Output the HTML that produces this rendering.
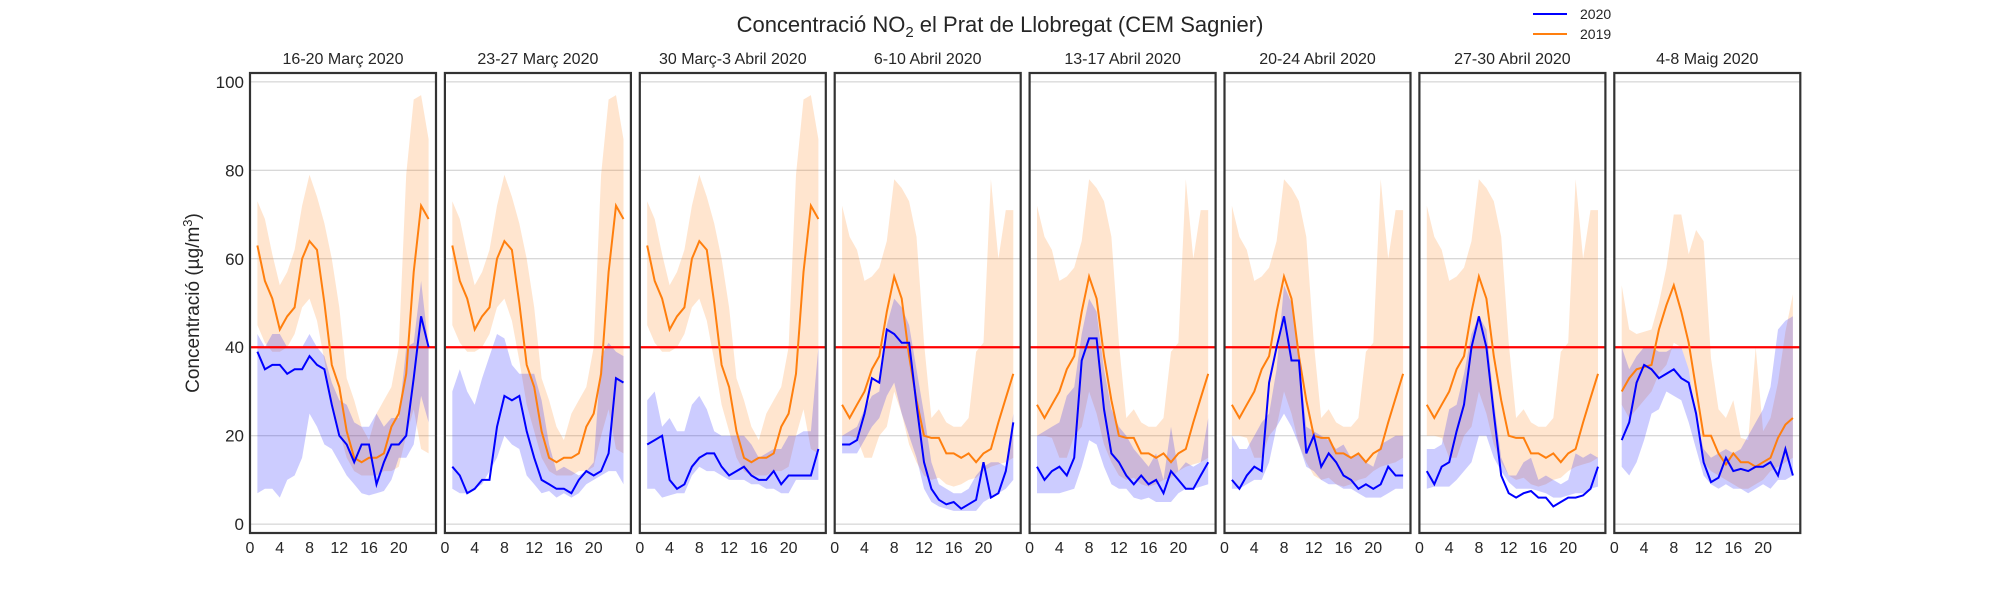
<!DOCTYPE html>
<html><head><meta charset="utf-8"><style>
body{margin:0;background:#fff;font-family:"Liberation Sans",sans-serif}
svg text{font-family:"Liberation Sans",sans-serif;fill:#262626}
</style></head><body>
<svg id="c" width="2000" height="600" viewBox="0 0 2000 600">
<text x="1000" y="32" text-anchor="middle" font-size="22">Concentració NO<tspan font-size="15" dy="5">2</tspan><tspan dy="-5"> el Prat de Llobregat (CEM Sagnier)</tspan></text>
<g>
<line x1="1533" y1="14" x2="1567" y2="14" stroke="#0000ff" stroke-width="2"/>
<text x="1580" y="19" font-size="14">2020</text>
<line x1="1533" y1="34" x2="1567" y2="34" stroke="#ff7f0e" stroke-width="2"/>
<text x="1580" y="39" font-size="14">2019</text>
</g>
<text transform="translate(199,303) rotate(-90)" text-anchor="middle" font-size="19">Concentració (µg/m<tspan font-size="13" dy="-7">3</tspan><tspan dy="7">)</tspan></text>
</svg>
<script>
const titles=["16-20 Març 2020","23-27 Març 2020","30 Març-3 Abril 2020","6-10 Abril 2020","13-17 Abril 2020","20-24 Abril 2020","27-30 Abril 2020","4-8 Maig 2020"];
const hours=[1,2,3,4,5,6,7,8,9,10,11,12,13,14,15,16,17,18,19,20,21,22,23,24];
const yTicks=[0,20,40,60,80,100];
const xTicks=[0,4,8,12,16,20];
const limit=40;
const o19A=[63,55,51,44,47,49,60,64,62,50,36,31,21,15,14,15,15,16,22,25,34,57,72,69];
const o19AUp=[73,69,61,54,57,62,72,79,74,68,60,49,33,28,22,19,25,28,31,40,79,96,97,87];
const o19ALo=[45,41,39,39,40,43,49,51,46,37,27,21,15,12,11,11,11,12,12,13,20,26,17,16];
const o19B=[27,24,27,30,35,38,48,56,51,38,28,20,19.5,19.5,16,16,15,16,14,16,17,23,28.5,34];
const o19BUp=[72,65,62,55,56,58,64,78,76,73,65,41,24,26,23,22,22,24,39,41,78,60,71,71];
const o19BLo=[20,20,19.5,15,15,20,22,30,25,18,14,11,10,10.5,9,8.5,9,10,10.5,12,13,13.5,14,15];
const o19C=[30,33,35,35.5,36,44,49.5,54,48,41,30.6,20,20,16,13.5,16,14,14,13,14,15,19.5,22.5,24];
const o19CUp=[54,44,43,43.5,44,50,58,70,70,61,66.5,64,37.5,26,24,28,19.5,19,40,21,24,32,43.5,52];
const o19CLo=[27,24,26,28,30,34,36,41,40,35,24,14,12,11,10,9,8,8,9,10,12,13,14,15];
const b20=[
[39,35,36,36,34,35,35,38,36,35,27,20,18,14,18,18,9,14,18,18,20,33,47,40],
[13,11,7,8,10,10,22,29,28,29,21,15,10,9,8,8,7,10,12,11,12,16,33,32],
[18,19,20,10,8,9,13,15,16,16,13,11,12,13,11,10,10,12,9,11,11,11,11,17],
[18,18,19,25,33,32,44,43,41,41,27,14,8,5.5,4.5,5,3.5,4.5,5.5,14,6,7,12,23],
[13,10,12,13,11,15,37,42,42,26,16,14,11,9,11,9,10,7,12,10,8,8,11,14],
[10,8,11,13,12,32,40,47,37,37,16,20,13,16,14,11,10,8,9,8,9,13,11,11],
[12,9,13,14,21,27,40,47,40,25,11,7,6,7,7.5,6,6,4,5,6,6,6.5,8,13],
[19,23,32,36,35,33,34,35,33,32,25,14,9.5,10.5,15,12,12.5,12,13,13,14,11,17,11]];
const b20Up=[
[43,40,43,43,40,40,40,43,40,38,32,28,27,23,22,22,25,22,24,24,40,41,55,40],
[30,35,30,27,33,38,43,42,36,34,34,34,28,18,12,13,12,11,12,14,38,41,39,38],
[28,30,22,24,21,21,27,29,26,21,20,20,20,20,18,15,16,17,17,20,20,21,21,40],
[20,21,22,26,29,30,45,51,49,45,35,25,14,9,8,7,7,8,11,13,14,14,13,25],
[20,21,22,23,29,31,43,51,48,35,26,22,20,17,15,13,16,10,22,12,14,13,14,24],
[20,17,17,20,23,25,35,54,50,38,22,21,20,19,17,18,15,16,14,13,18,19,20,20],
[17,17,18,26,27,34,43,47,44,28,15,11,11,14,15,10,11,10,9,10,16,15,16,15],
[40,35,38,40,40,39,39,40,40,35,24,17,15,16,17,16,17,20,23,26,31,44,46,47]];
const b20Lo=[
[7,8,8,6,10,11,15,25,22,18,17,14,11,9,7,6.5,7,7.5,10,15,15,18,29,23],
[8,7,7,8,9,12,15,20,18,17,11,9,7,7.5,6,7,6,7,9,10,11,12,12,9],
[8,8,6,6.5,7,7,11,13,12,12,11,10,10,10,9,9,8,8,7,7,10,10,10,10],
[16,16,16,19,22,24,29,32,25,20,15,8,5,4,3.5,3,3,3,3,5,6,7,8,10],
[7,7,7,7,7.5,8,13,19,18,13,9,8,8,6,5.5,6,5,5,5,7,8,8,8.5,9],
[8,8,9,10,10,14,22,25,22,18,13,12,10,9,9,8,8,7,6,6,6,7,8,8],
[8,8.5,8.5,8.5,10,12,14,20,20,15,12,9.5,8,8,8,7.5,7,6,6,6.5,7,7,8,8.5],
[13,11,14,19,25,26,30,29,28,23,17,11,9,8,9,8,8,7,8,9,8,10,10,11]];
const oSel=[0,0,0,1,1,1,1,2];
const oMain=[o19A,o19B,o19C],oUp=[o19AUp,o19BUp,o19CUp],oLo=[o19ALo,o19BLo,o19CLo];

const NS="http://www.w3.org/2000/svg";
const svg=document.getElementById('c');
const TOP=73,BOT=533,W=186,X0=250,STEP=194.9,YMIN=-2,YMAX=102,XMIN=0,XMAX=25;
function mk(t,a,p){const e=document.createElementNS(NS,t);for(const k in a)e.setAttribute(k,a[k]);(p||svg).appendChild(e);return e;}
function yS(v){return BOT-(v-YMIN)/(YMAX-YMIN)*(BOT-TOP);}
function poly(xs,ys,xf){return xs.map((h,i)=>xf(h).toFixed(1)+','+yS(ys[i]).toFixed(1)).join(' ');}
function band(xs,up,lo,xf){return poly(xs,up,xf)+' '+poly(xs.slice().reverse(),lo.slice().reverse(),xf);}
titles.forEach((t,i)=>{
  const L=X0+i*STEP;
  const xf=h=>L+(h-XMIN)/(XMAX-XMIN)*W;
  const g=mk('g',{});
  
  
  const cp=mk('clipPath',{id:'cp'+i},g);mk('rect',{x:L,y:TOP,width:W,height:BOT-TOP},cp);
  const ti=mk('text',{x:L+W/2,y:64,'text-anchor':'middle','font-size':16},g);ti.textContent=t;
  
  
  yTicks.forEach(v=>{
    const gl=mk('line',{x1:L,x2:L+W,y1:yS(v),y2:yS(v),stroke:'#cccccc','stroke-width':1},g);
    
    
    if(i===0){const tl=mk('text',{x:L-6,y:yS(v)+6,'text-anchor':'end','font-size':17},g);tl.textContent=v;
      
      }
  });
  const inner=mk('g',{'clip-path':'url(#cp'+i+')'},g);
  const ob=mk('polygon',{points:band(hours,oUp[oSel[i]],oLo[oSel[i]],xf),fill:'rgba(255,127,14,0.2)'},inner);
  
  
  const bb=mk('polygon',{points:band(hours,b20Up[i],b20Lo[i],xf),fill:'rgba(0,0,255,0.2)'},inner);
  
  
  const rl=mk('line',{x1:L,x2:L+W,y1:yS(limit),y2:yS(limit),stroke:'#ff0000','stroke-width':2.2},inner);
  
  
  const ol=mk('polyline',{points:poly(hours,oMain[oSel[i]],xf),fill:'none',stroke:'#ff7f0e','stroke-width':2},inner);
  
  
  const bl=mk('polyline',{points:poly(hours,b20[i],xf),fill:'none',stroke:'#0000ff','stroke-width':2},inner);
  
  
  const fr=mk('rect',{x:L,y:TOP,width:W,height:BOT-TOP,fill:'none',stroke:'#333','stroke-width':2.2},g);
  
  
  xTicks.forEach(v=>{const tl=mk('text',{x:xf(v),y:553,'text-anchor':'middle','font-size':16},g);tl.textContent=v;
    
    });
});
</script>
</body></html>
